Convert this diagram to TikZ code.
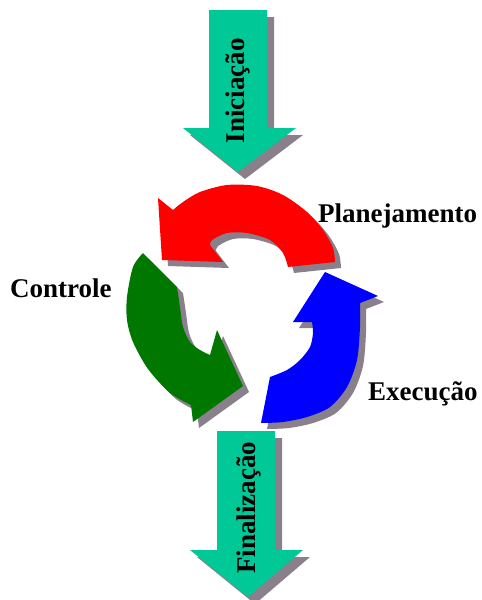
\documentclass[tikz,border=0pt]{standalone}
\usepackage{fontspec}
\setmainfont{Liberation Serif}
\definecolor{teal1}{RGB}{0,200,150}
\definecolor{shade1}{RGB}{138,128,140}
\definecolor{grn1}{RGB}{0,120,0}
\newcommand\toparrowpath{(209,10) -- (267,10) -- (267,128) -- (296,128) -- (238,172) -- (183,128) -- (209,128) -- cycle}
\newcommand\botarrowpath{(217,431) -- (275,431) -- (275,550) -- (303,550) -- (248,597) -- (190,550) -- (217,550) -- cycle}
\newcommand\redarrowpath{(158,198) -- (173,210) -- plot[smooth] coordinates {(173,210) (183,202) (200,192) (227,185) (257,186) (283,195) (307,212) (323,230) (333,248) (335,262)} -- (288,267) -- plot[smooth] coordinates {(288,267) (283,253) (270,240) (247,233) (227,233) (212,240) (210,245)} -- (223,262) -- (162,260) -- cycle}
\newcommand\grnarrowpath{(143,253) -- (177,287) -- plot[smooth] coordinates {(177,287) (180,307) (183,327) (190,342) (200,350) (210,355)} -- (217,330) -- (243,386) -- (193,422) -- (191,405) -- plot[smooth] coordinates {(191,405) (170,393) (148,369) (133,342) (127,320) (127,297) (133,267) (143,253)} -- cycle}
\newcommand\bluarrowpath{(325,272) -- (378,296) -- (360,303) -- plot[smooth] coordinates {(360,303) (360,327) (357,360) (347,387) (330,407) (307,417) (283,422) (261,423)} -- (270,377) -- plot[smooth] coordinates {(270,377) (287,370) (300,360) (310,347) (313,333) (312,322)} -- (293,322) -- cycle}
\begin{document}
\begin{tikzpicture}[x=1pt,y=-1pt,
  lbl/.style={inner sep=0pt, font=\fontsize{27}{30}\selectfont\bfseries, text=black},
  shadowfill/.style={fill=shade1, shift={(7,7)}}]
\useasboundingbox[fill=white] (0,0) rectangle (482,600);
% shadows
\fill[shadowfill] \toparrowpath;
\fill[shadowfill] \botarrowpath;
\fill[shadowfill, shift={(-1,-1)}] \redarrowpath;
\fill[shadowfill, shift={(-1,-1)}] \grnarrowpath;
\fill[shadowfill, shift={(-1,-1)}] \bluarrowpath;
% shapes
\fill[teal1] \toparrowpath;
\fill[teal1] \botarrowpath;
\fill[red] \redarrowpath;
\fill[grn1] \grnarrowpath;
\fill[blue] \bluarrowpath;
% labels
\node[lbl, rotate=90] (ini) at (238,91) {Iniciação};
\node[lbl, rotate=90] (fin) at (248.5,508) {Finalização};
\node[lbl, anchor=base west] (plan) at (318,222) {Planejamento};
\node[lbl, anchor=base west] (exec) at (368,400) {Execução};
\node[lbl, anchor=base west] (ctrl) at (10,297) {Controle};
\end{tikzpicture}
\end{document}
